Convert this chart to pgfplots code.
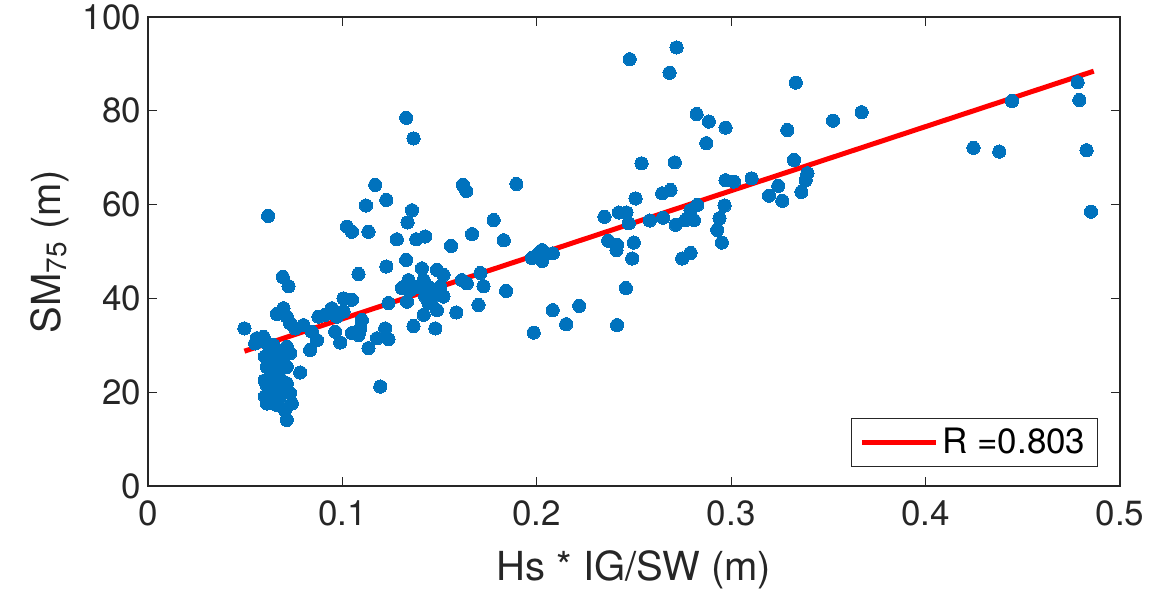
\documentclass[border=0pt]{standalone}
\usepackage{pgfplots}
\pgfplotsset{compat=1.18}
\usepackage{fontspec}
\setmainfont{TeX Gyre Heros}
\definecolor{mblue}{RGB}{0,114,189}
\definecolor{axgray}{RGB}{38,38,38}
\begin{document}
\begin{tikzpicture}
\begin{axis}[
  scale only axis, width=486pt, height=234.5pt,
  xmin=0, xmax=0.5, ymin=0, ymax=100,
  xtick={0,0.1,0.2,0.3,0.4,0.5}, ytick={0,20,40,60,80,100},
  xticklabels={0,0.1,0.2,0.3,0.4,0.5},
  tick align=inside, major tick length=4.5pt,
  axis line style={axgray, line width=0.6pt},
  tick style={axgray, line width=0.6pt},
  ticklabel style={font=\fontsize{17.5}{20}\selectfont, text=axgray},
  xticklabel style={yshift=-4pt},
  /pgf/number format/assume math mode=true,
  label style={font=\fontsize{20}{24}\selectfont, text=axgray},
  xlabel style={yshift=-5pt},
  xlabel={Hs * IG/SW (m)},
  ylabel={SM\textsubscript{75} (m)},
  legend style={at={(1,0)}, anchor=south east, xshift=-11pt, yshift=9.3pt,
    draw=axgray, line width=0.6pt, font=\fontsize{17.5}{20}\selectfont,
    inner xsep=4pt, inner ysep=3pt},
  legend cell align=left,
  legend image code/.code={\draw[#1] (0pt,0pt) -- (37pt,0pt);},
]
\addplot[only marks, mark=*, mark size=3.3pt, mark options={fill=mblue, draw=mblue, line width=0pt}, forget plot] table {
x y
0.0496 33.6
0.0551 30.4
0.0560 31.5
0.0594 31.8
0.0591 31.0
0.0618 57.6
0.0693 44.6
0.0723 42.6
0.0697 37.9
0.0663 36.7
0.0714 36.1
0.0731 34.7
0.0757 33.6
0.0800 34.3
0.0843 32.9
0.0877 36.1
0.0834 29.0
0.0783 24.2
0.0611 30.4
0.0645 30.1
0.0714 29.7
0.0731 28.3
0.0602 27.6
0.0645 27.6
0.0697 27.2
0.0611 25.4
0.0662 25.4
0.0714 25.4
0.0628 23.3
0.0680 22.9
0.0611 21.5
0.0662 21.2
0.0714 21.9
0.0602 19.1
0.0645 19.1
0.0731 19.8
0.0611 17.6
0.0662 17.3
0.0740 17.6
0.0705 16.2
0.0714 14.1
0.0630 26.5
0.0655 24.0
0.0620 20.2
0.0690 20.5
0.0650 28.8
0.0675 18.5
0.0600 22.5
0.0946 37.9
0.0911 36.5
0.0971 36.1
0.1006 37.2
0.1006 40.0
0.1049 39.7
0.1083 45.2
0.1100 35.4
0.1092 33.6
0.1049 32.6
0.1083 32.2
0.0963 32.9
0.0989 30.6
0.0869 31.1
0.1220 33.6
0.1237 31.3
0.1178 31.5
0.1134 29.4
0.1366 34.1
0.1418 36.5
0.1195 21.2
0.1169 64.2
0.1226 61.0
0.1121 59.8
0.1358 58.8
0.1335 56.2
0.1023 55.3
0.1049 54.2
0.1134 54.2
0.1280 52.6
0.1380 52.6
0.1426 53.2
0.1328 48.2
0.1226 46.8
0.1409 46.4
0.1418 43.9
0.1340 43.9
0.1306 42.2
0.1349 41.8
0.1332 39.3
0.1383 42.5
0.1426 40.4
0.1237 39.0
0.1328 78.5
0.1366 74.1
0.1486 46.1
0.1520 45.0
0.1452 42.2
0.1504 42.5
0.1469 40.4
0.1520 40.4
0.1443 39.0
0.1486 37.5
0.1478 33.6
0.1620 64.2
0.1637 62.9
0.1895 64.4
0.1778 56.7
0.1667 53.7
0.1830 52.4
0.1559 51.2
0.1615 43.9
0.1640 43.2
0.1710 45.4
0.1726 42.6
0.1842 41.6
0.1586 37.0
0.1700 38.6
0.1984 32.7
0.1975 48.6
0.2010 49.6
0.2027 50.3
0.2027 48.0
0.2082 49.6
0.2082 37.5
0.2151 34.5
0.2218 38.4
0.2413 34.3
0.2458 42.2
0.2348 57.4
0.2422 58.3
0.2461 58.3
0.2473 56.0
0.2367 52.3
0.2413 51.4
0.2410 50.3
0.2499 51.9
0.2491 48.5
0.2508 61.3
0.2539 68.8
0.2478 91.0
0.2719 93.5
0.2683 88.1
0.2581 56.6
0.2650 57.2
0.2645 62.4
0.2688 63.1
0.2710 69.0
0.2714 55.7
0.2765 56.7
0.2808 56.7
0.2791 58.8
0.2825 59.9
0.2748 48.5
0.2791 49.7
0.2822 79.3
0.2885 77.7
0.2872 73.1
0.2971 76.4
0.2966 59.8
0.2940 57.1
0.2928 54.6
0.2952 51.9
0.2971 65.2
0.3014 64.9
0.3105 65.6
0.3194 61.9
0.3242 64.0
0.3263 60.8
0.3289 75.9
0.3323 69.5
0.3332 86.0
0.3392 66.7
0.3383 65.2
0.3361 62.7
0.3524 77.9
0.3671 79.7
0.4246 72.1
0.4379 71.3
0.4444 82.1
0.4782 86.1
0.4791 82.3
0.4828 71.6
0.4851 58.5
};
\addplot[red, line width=2.5pt] coordinates {(0.0496,28.75) (0.4865,88.45)};
\addlegendentry{R =0.803}
\end{axis}
\pgfresetboundingbox
\path ([shift={(-74pt,-55.5pt)}]current axis.south west) rectangle ([shift={(14.5pt,8.5pt)}]current axis.north east);
\end{tikzpicture}
\end{document}
